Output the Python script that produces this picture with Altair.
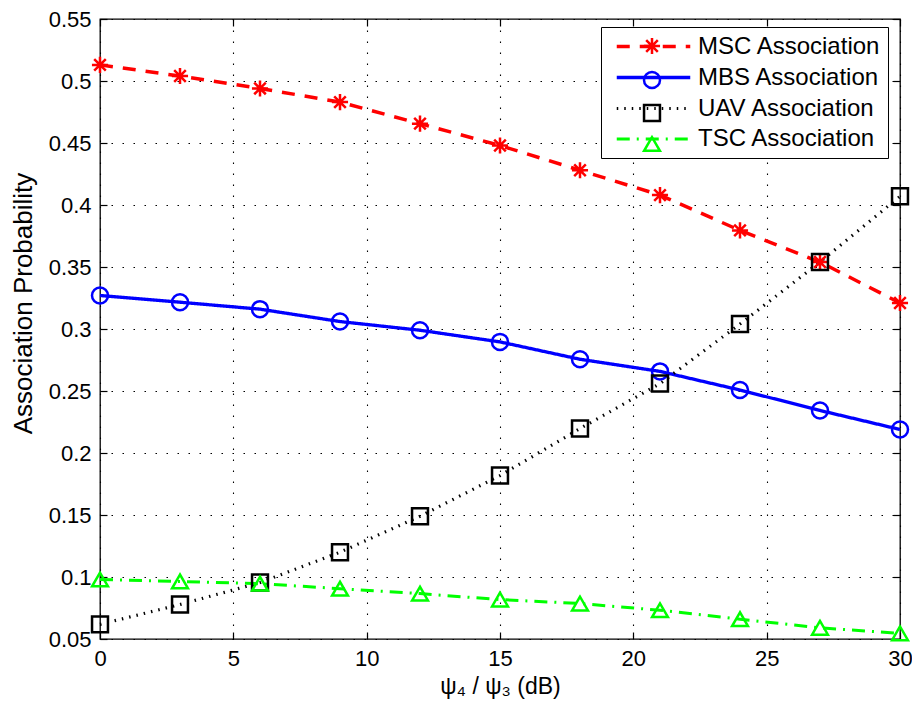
import altair as alt
import pandas as pd

# ---- data ----
x_vals = [0, 3, 6, 9, 12, 15, 18, 21, 24, 27, 30]
msc = [0.513, 0.504, 0.494, 0.483, 0.4656, 0.448, 0.428, 0.408, 0.3795, 0.354, 0.321]
mbs = [0.327, 0.3216, 0.316, 0.306, 0.299, 0.2896, 0.2756, 0.2658, 0.2508, 0.2343, 0.219]
uav = [0.0618, 0.0778, 0.0955, 0.120, 0.149, 0.1818, 0.2197, 0.256, 0.304, 0.354, 0.407]
tsc = [0.098, 0.0964, 0.0946, 0.0906, 0.0866, 0.0818, 0.0786, 0.0732, 0.066, 0.059, 0.0546]

series_names = ["MSC Association", "MBS Association", "UAV Association", "TSC Association"]
x_ticks = [0, 5, 10, 15, 20, 25, 30]
y_ticks = [0.05, 0.1, 0.15, 0.2, 0.25, 0.3, 0.35, 0.4, 0.45, 0.5, 0.55]

# ---- styles ----
colors = ["#ff0000", "#0000ff", "#000000", "#00ff00"]
dashes = [[13, 10], [1, 0], [1.5, 6], [13, 7, 2, 7]]
widths = [3.5, 3, 1.5, 3.5]
asterisk = "M-1,0L1,0M0,-1L0,1M-0.72,-0.72L0.72,0.72M-0.72,0.72L0.72,-0.72"
shapes = [asterisk, "circle", "square", "triangle-up"]
sizes = [260, 250, 140, 380]
legend_line = "M-3.5,0L3.5,0"

rows = []
for name, vals in zip(series_names, [msc, mbs, uav, tsc]):
    for xv, yv in zip(x_vals, vals):
        rows.append({"x": xv, "y": yv, "series": name})
df = pd.DataFrame(rows)

xscale = alt.Scale(domain=[0, 30], nice=False, zero=False)
yscale = alt.Scale(domain=[0.05, 0.55], nice=False, zero=False)

line_legend = alt.Legend(
    orient="none", legendX=501, legendY=8, title=None,
    symbolType=legend_line, symbolSize=441, padding=7, symbolOffset=33,
    strokeColor="black", fillColor="white", labelFontSize=24, labelLimit=400,
    rowPadding=6, labelOffset=32, labelFont="Liberation Sans", labelColor="black",
)

lines = alt.Chart(df).mark_line(strokeCap="butt").encode(
    x=alt.X("x:Q", scale=xscale, title="ψ₄ / ψ₃ (dB)",
            axis=alt.Axis(orient="bottom", values=x_ticks, offset=-7, tickSize=7,
                          labelPadding=9, domain=False, grid=True, titlePadding=6,
                          labelFlush=False, labelFontSize=22, titleFontSize=23)),
    y=alt.Y("y:Q", scale=yscale, title="Association Probability",
            axis=alt.Axis(orient="left", values=y_ticks, offset=-7, tickSize=7,
                          labelPadding=9, domain=False, grid=True, format="~g",
                          labelFlush=False, titlePadding=12, titleY=284,
                          labelFontSize=22, titleFontSize=26)),
    color=alt.Color("series:N", scale=alt.Scale(domain=series_names, range=colors), legend=line_legend),
    strokeDash=alt.StrokeDash("series:N", scale=alt.Scale(domain=series_names, range=dashes), legend=line_legend),
    strokeWidth=alt.StrokeWidth("series:N", scale=alt.Scale(domain=series_names, range=widths), legend=line_legend),
    detail="series:N",
)

point_legend = alt.Legend(
    orient="none", legendX=540, legendY=15, title=None, padding=0,
    labelExpr="' '", labelFontSize=24, rowPadding=6, symbolStrokeWidth=2.5,
)

points = alt.Chart(df).mark_point(filled=False, strokeWidth=2.5, opacity=1).encode(
    x=alt.X("x:Q", scale=xscale, title=None,
            axis=alt.Axis(orient="top", values=x_ticks, offset=-7, tickSize=7,
                          labels=False, domain=False, grid=False)),
    y=alt.Y("y:Q", scale=yscale, title=None,
            axis=alt.Axis(orient="right", values=y_ticks, offset=-7, tickSize=7,
                          labels=False, domain=False, grid=False)),
    color=alt.Color("series:N", scale=alt.Scale(domain=series_names, range=colors), legend=point_legend),
    shape=alt.Shape("series:N", scale=alt.Scale(domain=series_names, range=shapes), legend=point_legend),
    size=alt.Size("series:N", scale=alt.Scale(domain=series_names, range=sizes), legend=point_legend),
)

chart = alt.layer(lines, points).resolve_scale(
    color="independent", strokeDash="independent", strokeWidth="independent",
    shape="independent", size="independent",
).resolve_axis(
    x="independent", y="independent"
).properties(
    width=800, height=620,
    autosize=alt.AutoSizeParams(type="none"),
    padding={"left": 92, "top": 11, "right": 12, "bottom": 60},
).configure_view(
    stroke="black", strokeWidth=1.3
).configure_axis(
    labelFont="Liberation Sans", titleFont="Liberation Sans",
    labelColor="black", titleColor="black", titleFontWeight="normal",
    tickColor="black", tickWidth=1.2,
    gridColor="black", gridOpacity=1, gridDash=[1.5, 9.5], gridWidth=1.1,
).configure_legend(
    labelFont="Liberation Sans", labelColor="black",
)

chart.save("out.html", embed_options={"renderer": "svg", "actions": False})
